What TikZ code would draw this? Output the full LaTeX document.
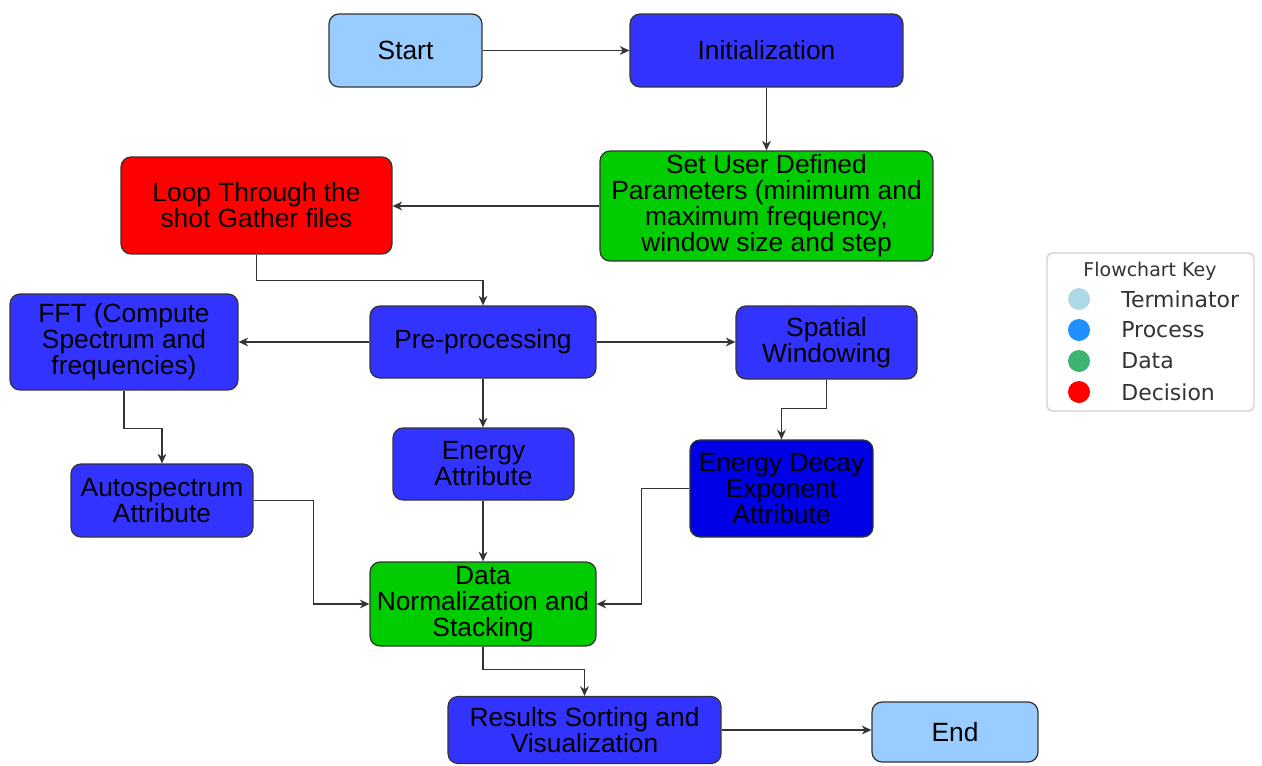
\documentclass[tikz,border=0pt]{standalone}
\usepackage{fontspec}
\setmainfont{Liberation Sans}
\newfontfamily\keyfont{DejaVu Sans}
\usetikzlibrary{arrows.meta}
\definecolor{termc}{HTML}{99CCFF}
\definecolor{procc}{HTML}{3333FF}
\definecolor{procd}{HTML}{0000E6}
\definecolor{datac}{HTML}{00CC00}
\definecolor{decc}{HTML}{FF0000}
\definecolor{lineg}{HTML}{333333}
\definecolor{keyterm}{HTML}{ADD8E6}
\definecolor{keyproc}{HTML}{1E90FF}
\definecolor{keydata}{HTML}{3CB371}
\definecolor{keytext}{HTML}{333333}
\tikzset{
  box/.style={draw=lineg, line width=0.7pt, rounded corners=0.2cm, align=center,
    inner sep=0pt, font=\fontsize{15}{14.8}\selectfont, text=black},
  term/.style={box, fill=termc},
  proc/.style={box, fill=procc},
  procdark/.style={box, fill=procd},
  datab/.style={box, fill=datac},
  decb/.style={box, fill=decc},
  arr/.style={draw=lineg, line width=0.8pt, -{Stealth[length=5.5pt,width=5pt]}},
  keylbl/.style={anchor=west, inner sep=0pt, text=keytext, font=\keyfont\fontsize{12.5}{14}\selectfont},
}
\begin{document}
\begin{tikzpicture}[x=0.02cm, y=-0.02cm]
\useasboundingbox (0,0) rectangle (1262,765);

\node[term, minimum width=3.06cm, minimum height=1.46cm] (start) at (405.5,50.5) {Start};
\node[proc, minimum width=5.46cm, minimum height=1.46cm] (init) at (766.5,50.5) {Initialization};
\node[datab, minimum width=6.66cm, minimum height=2.2cm] (set) at (766.5,206) {Set User Defined\\Parameters (minimum and\\maximum frequency,\\window size and step};
\node[decb, minimum width=5.42cm, minimum height=1.94cm] (loop) at (256.5,205.5) {Loop Through the\\shot Gather files};
\node[proc, minimum width=4.56cm, minimum height=1.92cm] (fft) at (124,342) {FFT (Compute\\Spectrum and\\frequencies)};
\node[proc, minimum width=4.52cm, minimum height=1.44cm] (pre) at (483,342) {Pre-processing};
\node[proc, minimum width=3.62cm, minimum height=1.46cm] (spat) at (826.5,342.5) {Spatial\\Windowing};
\node[proc, minimum width=3.62cm, minimum height=1.44cm] (energy) at (483.5,464) {Energy\\Attribute};
\node[procdark, minimum width=3.66cm, minimum height=1.94cm] (decay) at (781.5,488.5) {Energy Decay\\Exponent\\Attribute};
\node[proc, minimum width=3.64cm, minimum height=1.46cm] (auto) at (162,500.5) {Autospectrum\\Attribute};
\node[datab, minimum width=4.52cm, minimum height=1.68cm] (data) at (483,604) {Data\\Normalization and\\Stacking};
\node[proc, minimum width=5.46cm, minimum height=1.34cm] (res) at (584.5,730) {Results Sorting and\\Visualization};
\node[term, minimum width=3.32cm, minimum height=1.2cm] (end) at (955,732) {End};

\draw[arr] (start) -- (init);
\draw[arr] (init) -- (set);
\draw[arr] (set.west) -- (set.west -| loop.east);
\draw[arr] (loop.south) -- ++(0,26) -| (pre.north);
\draw[arr] (pre.west) -- (fft.east |- pre.west);
\draw[arr] (pre.east) -- (spat.west |- pre.east);
\draw[arr] (pre.south) -- (energy.north -| pre.south);
\draw[arr] (fft.south) -- ++(0,38) -| (auto.north);
\draw[arr] (spat.south) -- ++(0,29) -| (decay.north);
\draw[arr] (auto.east) -- ++(60,0) |- (data.west);
\draw[arr] (energy.south -| data.north) -- (data.north);
\draw[arr] (decay.west) -- ++(-48,0) |- (data.east);
\draw[arr] (data.south) -- ++(0,23) -| (res.north);
\draw[arr] (res.east) -- (end.west |- res.east);

% legend
\node[draw=black!18, line width=0.8pt, rounded corners=3pt, minimum width=4.14cm, minimum height=3.16cm, inner sep=0pt] (key) at (1150.5,332) {};
\node[inner sep=0pt, text=keytext, font=\keyfont\fontsize{10.8}{12}\selectfont] (keytitle) at (1150,271) {Flowchart Key};
\fill[keyterm] (1079,299) circle (0.22cm);
\fill[keyproc] (1079,330) circle (0.22cm);
\fill[keydata] (1079,361) circle (0.22cm);
\fill[decc] (1079,392) circle (0.22cm);
\node[keylbl] (k1) at (1121,299) {Terminator};
\node[keylbl] (k2) at (1121,330) {Process};
\node[keylbl] (k3) at (1121,361) {Data};
\node[keylbl] (k4) at (1121,392) {Decision};
\end{tikzpicture}
\end{document}
